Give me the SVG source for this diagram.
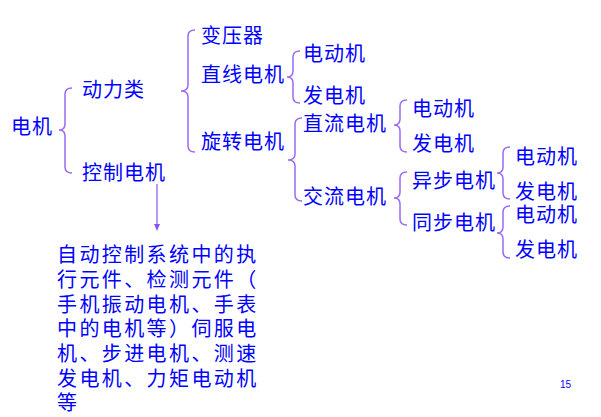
<svg xmlns="http://www.w3.org/2000/svg" width="601" height="417" viewBox="0 0 601 417">
<style>
.t{font-family:"Noto Sans CJK SC","Noto Sans",sans-serif;font-size:20px;fill:#0000ff;letter-spacing:1px}
.p{font-family:"Noto Sans CJK SC","Noto Sans",sans-serif;font-size:20px;fill:#0000ff;letter-spacing:2.4px}
.b{fill:none;stroke:#9b6bf2;stroke-width:1.5}
</style>
<rect width="601" height="417" fill="#ffffff"/>
<g id="connectors">
<path class="b" d="M72,88 Q65,88 65,94 L65,124 Q65,130 59,130 Q65,130 65,136 L65,167 Q65,173 72,173"/>
<path class="b" d="M195,30 Q188,30 188,36 L188,85 Q188,91 181,91 Q188,91 188,97 L188,146 Q188,152 195,152"/>
<path class="b" d="M300,51 Q293,51 293,57 L293,71 Q293,77 287,77 Q293,77 293,83 L293,97 Q293,103 300,103"/>
<path class="b" d="M302,118 Q295,118 295,124 L295,154 Q295,160 288,160 Q295,160 295,166 L295,195 Q295,201 302,201"/>
<path class="b" d="M407,100 Q400,100 400,106 L400,119 Q400,125 394,125 Q400,125 400,131 L400,146 Q400,152 407,152"/>
<path class="b" d="M407,172 Q400,172 400,178 L400,192 Q400,198 394,198 Q400,198 400,204 L400,219 Q400,225 407,225"/>
<path class="b" d="M510,147 Q503,147 503,153 L503,167 Q503,173 497,173 Q503,173 503,179 L503,193 Q503,199 510,199"/>
<path class="b" d="M510,206 Q503,206 503,212 L503,227 Q503,233 497,233 Q503,233 503,239 L503,252 Q503,258 510,258"/>
<line x1="157" y1="184" x2="157" y2="225" stroke="#8a55ee" stroke-width="1.2"/>
<path d="M154,224 L160,224 L157,231 Z" fill="#8a55ee"/>
</g>
<g id="n-dianji"><text class="t" x="11" y="134">电机</text></g>
<g id="n-donglilei"><text class="t" x="82" y="97">动力类</text></g>
<g id="n-kongzhi"><text class="t" x="82" y="180">控制电机</text></g>
<g id="n-bianyaqi"><text class="t" x="201" y="43">变压器</text></g>
<g id="n-zhixian"><text class="t" x="201" y="82">直线电机</text></g>
<g id="n-xuanzhuan"><text class="t" x="201" y="149">旋转电机</text></g>
<g id="n-zx-dd"><text class="t" x="303" y="61">电动机</text></g>
<g id="n-zx-fd"><text class="t" x="303" y="103">发电机</text></g>
<g id="n-zhiliu"><text class="t" x="303" y="131">直流电机</text></g>
<g id="n-jiaoliu"><text class="t" x="303" y="204">交流电机</text></g>
<g id="n-zl-dd"><text class="t" x="412" y="116">电动机</text></g>
<g id="n-zl-fd"><text class="t" x="412" y="151">发电机</text></g>
<g id="n-yibu"><text class="t" x="412" y="188">异步电机</text></g>
<g id="n-tongbu"><text class="t" x="412" y="230">同步电机</text></g>
<g id="n-yb-dd"><text class="t" x="515" y="164">电动机</text></g>
<g id="n-yb-fd"><text class="t" x="515" y="199">发电机</text></g>
<g id="n-tb-dd"><text class="t" x="515" y="222">电动机</text></g>
<g id="n-tb-fd"><text class="t" x="515" y="257">发电机</text></g>
<g id="n-desc">
<text class="p" x="57" y="262">自动控制系统中的执</text>
<text class="p" x="57" y="287">行元件、检测元件（</text>
<text class="p" x="57" y="312">手机振动电机、手表</text>
<text class="p" x="57" y="336">中的电机等）伺服电</text>
<text class="p" x="57" y="361">机、步进电机、测速</text>
<text class="p" x="57" y="386">发电机、力矩电动机</text>
<text class="p" x="57" y="410">等</text>
</g>
<text x="560" y="388" font-family="Liberation Sans, sans-serif" font-size="10" fill="#0000ff">15</text>
</svg>
